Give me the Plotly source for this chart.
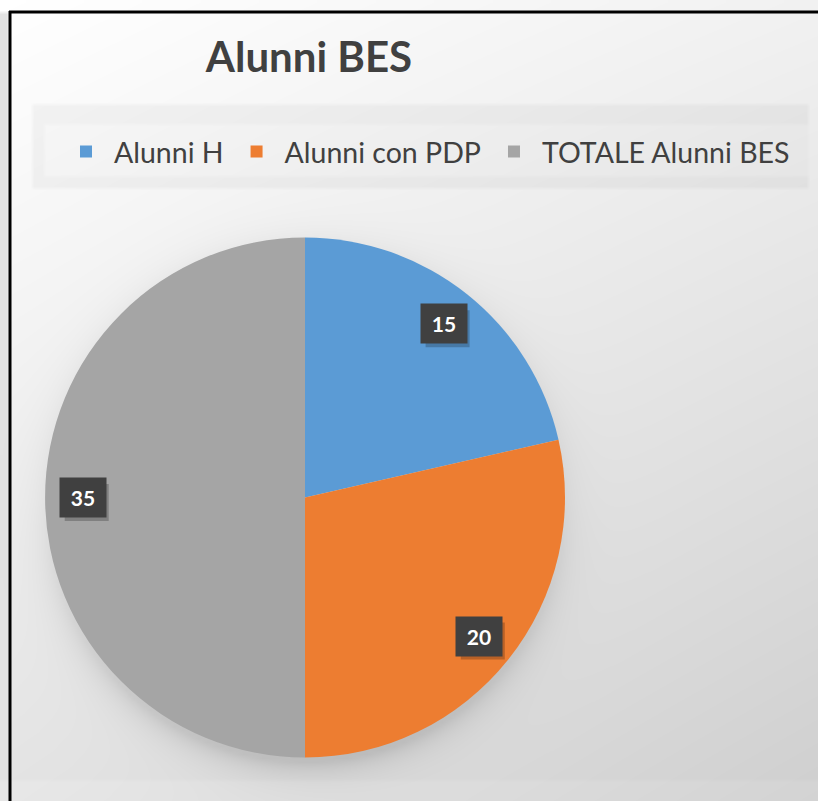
import numpy as np
import plotly.graph_objects as go

# ---- data ----
labels = ["Alunni H", "Alunni con PDP", "TOTALE Alunni BES"]
values = [15, 20, 35]
colors = ["#5B9BD5", "#ED7D31", "#A5A5A5"]
title_text = "Alunni BES"

W, H = 818, 801
CX, CY, R = 305.0, 497.5, 260.0

# ---- background (gradient + soft pie shadow) as a grayscale image ----
step = 4
xs = np.arange(step / 2, W + step, step)
ys = np.arange(step / 2, H + step, step)
X, Y = np.meshgrid(xs, ys)
tx, ty = X / W, Y / H
g = 255 - 14 * tx - 28 * ty - 6 * tx * ty
g = np.where((X < 8) & (Y > 12), 226, g)
g = np.where(Y > 778, g + 4, g)
outer = (X > 33) & (X < 810) & (Y > 103) & (Y < 190)
inner = (X > 42) & (X < 810) & (Y > 125) & (Y < 178)
g = np.where(outer, g - 9, g)
g = np.where(inner, g + 5, g)
dist = np.hypot(X - CX, Y - (CY + 4))
d = np.maximum(dist - R, 0)
wgt = 0.35 + 0.65 * np.clip((Y - CY) / np.maximum(dist, 1), 0, 1)
shadow = 32 * np.exp(-d / 15.0) * wgt
g = g - np.where(dist < R + 90, shadow, 0)
g = np.clip(g, 0, 255)

fig = go.Figure()
fig.add_trace(go.Heatmap(
    x=xs, y=ys, z=g, zmin=0, zmax=255, zsmooth="best",
    colorscale=[[0, "rgb(0,0,0)"], [1, "rgb(255,255,255)"]],
    showscale=False, hoverinfo="skip",
))

fig.add_trace(go.Pie(
    labels=labels, values=values, sort=False, direction="clockwise",
    rotation=0, textinfo="none", marker=dict(colors=colors),
    domain=dict(x=[(CX - R) / W, (CX + R) / W],
                y=[1 - (CY + R) / H, 1 - (CY - R) / H]),
    hoverinfo="label+value",
))

# ---- data labels (dark boxes) computed from values ----
total = sum(values)
cum = 0
annotations = []
shapes = []
BW, BH = 44, 37
for v in values:
    mid = (cum + v / 2) / total * 2 * np.pi
    cum += v
    r = 0.855 * R
    lx = CX + r * np.sin(mid)
    ly = CY - r * np.cos(mid)
    shapes.append(dict(
        type="rect", xref="x", yref="y",
        x0=lx - BW / 2 + 4, x1=lx + BW / 2 + 4,
        y0=ly - BH / 2 + 5, y1=ly + BH / 2 + 5,
        fillcolor="rgba(0,0,0,0.22)", line=dict(width=0), layer="above",
    ))
    annotations.append(dict(
        x=lx, y=ly, xref="x", yref="y", text=str(v), showarrow=False,
        width=BW, height=BH, bgcolor="#404040",
        font=dict(family="Lato", size=21, color="white", weight="bold"),
    ))

shapes += [
    dict(type="line", xref="x", yref="y", x0=10, x1=10, y0=11, y1=H,
         line=dict(color="black", width=3), layer="above"),
    dict(type="line", xref="x", yref="y", x0=9, x1=W, y0=12, y1=12,
         line=dict(color="black", width=3), layer="above"),
]

fig.update_layout(
    width=W, height=H, margin=dict(l=0, r=0, t=0, b=0),
    paper_bgcolor="white", plot_bgcolor="white",
    xaxis=dict(range=[0, W], visible=False, fixedrange=True),
    yaxis=dict(range=[H, 0], visible=False, fixedrange=True),
    title=dict(text=title_text, x=309 / W, xanchor="center",
               y=1 - 57 / H, yanchor="middle",
               font=dict(family="Lato", size=42, color="#404040", weight="bold")),
    showlegend=True,
    legend=dict(orientation="h", x=58 / W, xanchor="left",
                y=1 - 152 / H, yanchor="middle",
                itemwidth=46,
                bgcolor="rgba(0,0,0,0)",
                font=dict(family="Lato", size=28.5, color="#404040")),
    annotations=annotations,
    shapes=shapes,
)

fig.write_html("out.html", config={"displayModeBar": False},
               post_script="document.body.style.margin='0';")
